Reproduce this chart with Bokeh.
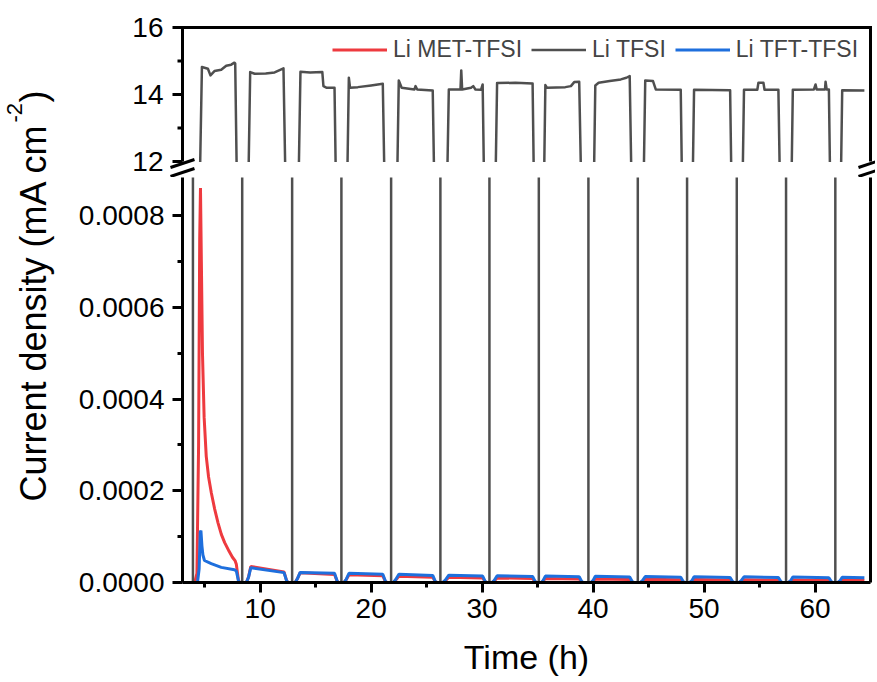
import math
from bokeh.plotting import figure
from bokeh.models import (Range1d, LinearAxis, FixedTicker, Legend, LegendItem,
                          Label, PolyAnnotation, BoxAnnotation, PrintfTickFormatter)
from bokeh.layouts import row, column
from bokeh.embed import file_html
from bokeh.resources import INLINE

# ---------------- data ----------------
# Li TFSI (gray): plateaus of ~14 mA cm-2 separated by drops to ~0
gray_t = [3.0, 3.94,
          4.75, 5.29, 5.52, 5.88, 6.49, 6.94, 7.39, 7.68, 7.75, 8.38,
          9.10, 9.5, 10.5, 11.3, 11.7, 12.1, 12.88,
          13.63, 14.5, 15.6, 15.7, 16.0, 16.7, 17.32,
          17.99, 18.1, 18.8, 20.0, 21.05, 21.80,
          22.49, 22.75, 23.9, 24.0, 24.15, 25.55, 26.24,
          27.0, 28.05, 28.12, 28.2, 29.0, 29.2, 29.4, 29.9, 30.05, 30.66,
          31.35, 33.0, 34.55, 35.11,
          35.7, 35.85, 37.5, 38.0, 38.3, 38.75, 39.58,
          40.2, 40.5, 41.5, 42.5, 43.0, 43.3, 44.03,
          44.7, 45.4, 45.65, 47.9, 48.47,
          49.1, 52.35, 52.95,
          53.6, 54.8, 54.9, 55.35, 55.45, 56.7, 57.39,
          58.0, 59.9, 60.05, 60.15, 60.9, 60.95, 61.05, 61.25, 61.83,
          62.45, 64.45]
gray_v = [0, 0,
          14.82, 14.77, 14.57, 14.70, 14.74, 14.86, 14.89, 14.95, 14.93, 0,
          14.67, 14.62, 14.63, 14.66, 14.72, 14.78, 0,
          14.68, 14.66, 14.67, 14.25, 14.20, 14.20, 0,
          14.50, 14.20, 14.22, 14.27, 14.32, 0,
          14.42, 14.20, 14.15, 14.25, 14.15, 14.12, 0,
          14.15, 14.15, 14.72, 14.15, 14.20, 14.25, 14.15, 14.14, 14.30, 0,
          14.34, 14.35, 14.33, 0,
          14.28, 14.20, 14.22, 14.25, 14.37, 14.38, 0,
          14.27, 14.35, 14.40, 14.45, 14.50, 14.55, 0,
          14.42, 14.40, 14.15, 14.14, 0,
          14.14, 14.13, 0,
          14.14, 14.14, 14.35, 14.35, 14.14, 14.14, 0,
          14.14, 14.15, 14.30, 14.15, 14.15, 14.38, 14.15, 14.15, 0,
          14.13, 14.12]

# Li MET-TFSI (red) first cycle
red_head_t = [3.0, 4.1, 4.3, 4.45, 4.55, 4.62, 4.7, 4.8, 4.95, 5.14, 5.35, 5.6,
              5.9, 6.2, 6.5, 6.8, 7.2, 7.5, 7.75, 7.85, 8.05, 8.2, 8.75]
red_head_v = [0, 0, 2e-5, 3.0e-4, 7.5e-4, 8.6e-4, 7.0e-4, 5.0e-4, 3.6e-4, 2.75e-4,
              2.3e-4, 1.95e-4, 1.6e-4, 1.3e-4, 1.05e-4, 8.7e-5, 6.8e-5, 5.5e-5,
              4.7e-5, 4.0e-5, 3e-6, 0, 0]
# Li TFT-TFSI (blue) first cycle
blue_head_t = [3.0, 4.35, 4.5, 4.6, 4.66, 4.75, 4.84, 4.98, 5.59, 6.49, 7.68,
               7.85, 8.05, 8.2, 8.75]
blue_head_v = [0, 0, 3e-5, 1.1e-4, 1.13e-4, 8e-5, 6e-5, 4.8e-5, 4.1e-5, 3.3e-5,
               2.76e-5, 2.5e-5, 3e-6, 0, 0]

# later cycles (shared time stamps)
tail_t = [8.95, 9.15, 12.15, 12.4, 12.55, 13.15,
          13.35, 13.6, 16.7, 16.95, 17.1, 17.55,
          17.75, 18.0, 21.05, 21.3, 21.45, 22.0,
          22.2, 22.5, 25.55, 25.8, 25.95, 26.45,
          26.7, 27.0, 30.05, 30.3, 30.45, 30.9,
          31.1, 31.35, 34.55, 34.8, 34.95, 35.35,
          35.5, 35.7, 38.75, 39.0, 39.15, 39.8,
          40.0, 40.2, 43.3, 43.55, 43.7, 44.25,
          44.45, 44.7, 47.9, 48.15, 48.3, 48.7,
          48.9, 49.1, 52.35, 52.6, 52.75, 53.15,
          53.35, 53.6, 56.7, 56.95, 57.1, 57.6,
          57.8, 58.0, 61.25, 61.5, 61.65, 62.05,
          62.25, 62.45, 64.45]
red_tail_v = [1.2e-5, 3.5e-5, 2.3e-5, 2.5e-6, 0, 0,
              0.8e-5, 2.1e-5, 1.75e-5, 2e-6, 0, 0,
              0.6e-5, 1.7e-5, 1.45e-5, 1.5e-6, 0, 0,
              0.5e-5, 1.35e-5, 1.15e-5, 1.2e-6, 0, 0,
              0.4e-5, 1.15e-5, 1.0e-5, 1e-6, 0, 0,
              0.35e-5, 1.0e-5, 0.85e-5, 1e-6, 0, 0,
              0.3e-5, 0.85e-5, 0.75e-5, 0.8e-6, 0, 0,
              0.25e-5, 0.75e-5, 0.65e-5, 0.7e-6, 0, 0,
              0.25e-5, 0.7e-5, 0.6e-5, 0.6e-6, 0, 0,
              0.22e-5, 0.65e-5, 0.55e-5, 0.5e-6, 0, 0,
              0.2e-5, 0.6e-5, 0.5e-5, 0.5e-6, 0, 0,
              0.2e-5, 0.55e-5, 0.5e-5, 0.5e-6, 0, 0,
              0.18e-5, 0.5e-5, 0.45e-5]
blue_tail_v = [1.1e-5, 3.2e-5, 2.15e-5, 2.5e-6, 0, 0,
               0.8e-5, 2.2e-5, 2.0e-5, 2e-6, 0, 0,
               0.7e-5, 2.0e-5, 1.8e-5, 2e-6, 0, 0,
               0.6e-5, 1.8e-5, 1.55e-5, 1.5e-6, 0, 0,
               0.55e-5, 1.6e-5, 1.4e-5, 1.5e-6, 0, 0,
               0.5e-5, 1.45e-5, 1.3e-5, 1.3e-6, 0, 0,
               0.45e-5, 1.4e-5, 1.25e-5, 1.2e-6, 0, 0,
               0.45e-5, 1.35e-5, 1.2e-5, 1.2e-6, 0, 0,
               0.4e-5, 1.3e-5, 1.15e-5, 1.1e-6, 0, 0,
               0.4e-5, 1.25e-5, 1.1e-5, 1e-6, 0, 0,
               0.4e-5, 1.25e-5, 1.1e-5, 1e-6, 0, 0,
               0.4e-5, 1.2e-5, 1.05e-5, 1e-6, 0, 0,
               0.38e-5, 1.15e-5, 1.05e-5]

red_t = red_head_t + tail_t
red_v = red_head_v + red_tail_v
blue_t = blue_head_t + tail_t
blue_v = blue_head_v + blue_tail_v

series_names = ["Li MET-TFSI", "Li TFSI", "Li TFT-TFSI"]
x_ticks = [10, 20, 30, 40, 50, 60]
x_minor = [5, 15, 25, 35, 45, 55]
top_ticks = [12, 14, 16]
top_minor = [13, 15]
bot_ticks = [0.0, 0.0002, 0.0004, 0.0006, 0.0008]
bot_minor = [0.0001, 0.0003, 0.0005, 0.0007]

# ---------------- styling / geometry ----------------
FONT = "Arial"
RED = "#EE3A3F"
GRAY = "#4F4F4F"
BLUE = "#1E6FDD"
AX_W = 3
X0, X1 = 3, 65            # shown time range
Y_LO, Y_HI = 12, 16       # upper panel range
FRAME_W = 688             # plotting width of both panels (px)
TOP_H = 134               # upper panel height (px)
PAD_L, PAD_R = 14, 5      # extra frame room in the upper figure for the break marks
PAD_T, PAD_B = 7, 16

px_h = FRAME_W / (X1 - X0)
px_u = TOP_H / (Y_HI - Y_LO)


def style_axis(ax, size="28px"):
    ax.axis_line_width = AX_W
    ax.axis_line_color = "black"
    ax.major_tick_line_width = AX_W
    ax.minor_tick_line_width = AX_W
    ax.major_tick_in = 0
    ax.minor_tick_in = 0
    ax.major_tick_out = 10
    ax.minor_tick_out = 5
    ax.major_label_text_font = FONT
    ax.major_label_text_font_size = size
    ax.major_label_text_color = "black"


def border_axis():
    ax = LinearAxis(ticker=FixedTicker(ticks=[]))
    ax.axis_line_width = AX_W
    ax.axis_line_color = "black"
    ax.major_tick_out = 0
    ax.major_tick_in = 0
    ax.minor_tick_out = 0
    ax.minor_tick_in = 0
    ax.major_label_standoff = 0
    return ax


def seg(p, xs, ys, xu, yu):
    p.add_layout(PolyAnnotation(xs=xs, ys=ys, xs_units=xu, ys_units=yu,
                                line_width=AX_W, line_color="black",
                                line_alpha=1.0, fill_alpha=0))


# ---------------- upper panel (12 - 16) ----------------
top = figure(frame_width=FRAME_W + PAD_L + PAD_R, frame_height=TOP_H + PAD_T + PAD_B,
             x_range=Range1d(X0 - PAD_L / px_h, X1 + PAD_R / px_h),
             y_range=Range1d(Y_LO - PAD_B / px_u, Y_HI + PAD_T / px_u),
             output_backend="svg", toolbar_location=None, x_axis_location=None,
             min_border_left=100, min_border_right=0, min_border_top=20,
             min_border_bottom=0)
top.frame_align = False
top.outline_line_color = None
top.grid.visible = False
yax = top.yaxis[0]
yax.ticker = FixedTicker(ticks=top_ticks, minor_ticks=top_minor)
yax.axis_line_color = None
yax.major_tick_line_color = None
yax.minor_tick_line_color = None
yax.major_tick_out = 0
yax.minor_tick_out = 0
yax.major_label_standoff = 5
yax.major_label_text_font = FONT
yax.major_label_text_font_size = "28px"
yax.major_label_text_color = "black"

rr_top = top.line(red_t, red_v, color=RED, line_width=3)
rg_top = top.line(gray_t, gray_v, color=GRAY, line_width=2.5, line_join="round")
rb_top = top.line(blue_t, blue_v, color=BLUE, line_width=3)

# blank the space of the axis break
top.add_layout(BoxAnnotation(top=Y_LO - 0.5 / px_u, fill_color="white",
                             fill_alpha=1, line_color=None))
# frame of the upper panel: left axis line, top and right borders, ticks
ext_u = 1.5 / px_u
ext_h = 1.5 / px_h
seg(top, [PAD_L, PAD_L], [Y_HI + ext_u, Y_LO], "screen", "data")
seg(top, [X1, X1], [Y_HI + ext_u, Y_LO], "data", "data")
seg(top, [X0 - ext_h, X1 + ext_h], [Y_HI, Y_HI], "data", "data")
for v in top_ticks:
    seg(top, [PAD_L - 10, PAD_L], [v, v], "screen", "data")
for v in top_minor:
    seg(top, [PAD_L - 5, PAD_L], [v, v], "screen", "data")
# axis-break marks (left and right)
for xc in (PAD_L, PAD_L + FRAME_W):
    seg(top, [xc - 12, xc + 12], [10, 18], "screen", "screen")
    seg(top, [xc - 12, xc + 12], [1, 9], "screen", "screen")

legend = Legend(items=[LegendItem(label=series_names[0], renderers=[rr_top]),
                       LegendItem(label=series_names[1], renderers=[rg_top]),
                       LegendItem(label=series_names[2], renderers=[rb_top])],
                orientation="horizontal", location=(164, 114),
                label_text_font=FONT, label_text_font_size="23px",
                glyph_width=55, glyph_height=23, label_height=23,
                label_standoff=6, spacing=9, padding=0, margin=0,
                border_line_color=None, background_fill_alpha=0)
top.add_layout(legend)

# ---------------- lower panel (0 - ~0.00088) ----------------
bot = figure(frame_width=FRAME_W, frame_height=405, x_range=Range1d(X0, X1),
             y_range=Range1d(0, 0.000883), output_backend="svg",
             toolbar_location=None,
             min_border_left=114, min_border_right=5, min_border_top=0,
             min_border_bottom=0)
bot.frame_align = False
bot.outline_line_color = None
bot.grid.visible = False
style_axis(bot.yaxis[0])
bot.yaxis[0].ticker = FixedTicker(ticks=bot_ticks, minor_ticks=bot_minor)
bot.yaxis[0].formatter = PrintfTickFormatter(format="%.4f")
bot.yaxis[0].major_label_standoff = 8
style_axis(bot.xaxis[0])
bot.xaxis[0].ticker = FixedTicker(ticks=x_ticks, minor_ticks=x_minor)
bot.xaxis[0].major_label_standoff = 6
bot.xaxis[0].axis_label = "Time (h)"
bot.xaxis[0].axis_label_text_font = FONT
bot.xaxis[0].axis_label_text_font_size = "34px"
bot.xaxis[0].axis_label_text_font_style = "normal"
bot.xaxis[0].axis_label_text_color = "black"
bot.xaxis[0].axis_label_standoff = 17
bot.add_layout(border_axis(), "right")

bot.line(red_t, red_v, color=RED, line_width=3)
bot.line(gray_t, gray_v, color=GRAY, line_width=2.5, line_join="round")
bot.line(blue_t, blue_v, color=BLUE, line_width=3)

# ---------------- y-axis title column ----------------
LAB_H = 679
lab = figure(width=68, height=LAB_H, output_backend="svg", toolbar_location=None,
             min_border=0, x_axis_location=None, y_axis_location=None,
             x_range=Range1d(0, 1), y_range=Range1d(0, 1))
lab.frame_align = False
lab.outline_line_color = None
lab.grid.visible = False
lab.add_layout(Label(x=33, y=LAB_H - 501, x_units="screen", y_units="screen",
                     text="Current density (mA cm", angle=math.pi / 2,
                     text_font=FONT, text_font_size="36px", text_color="black",
                     text_align="left", text_baseline="alphabetic"))
lab.add_layout(Label(x=14, y=LAB_H - 122, x_units="screen", y_units="screen",
                     text="-2", angle=math.pi / 2,
                     text_font=FONT, text_font_size="22px", text_color="black",
                     text_align="left", text_baseline="alphabetic"))
lab.add_layout(Label(x=33, y=LAB_H - 102, x_units="screen", y_units="screen",
                     text=")", angle=math.pi / 2,
                     text_font=FONT, text_font_size="36px", text_color="black",
                     text_align="left", text_baseline="alphabetic"))

layout = row(lab, column(top, bot))
open("out.html", "w").write(file_html(layout, INLINE))
